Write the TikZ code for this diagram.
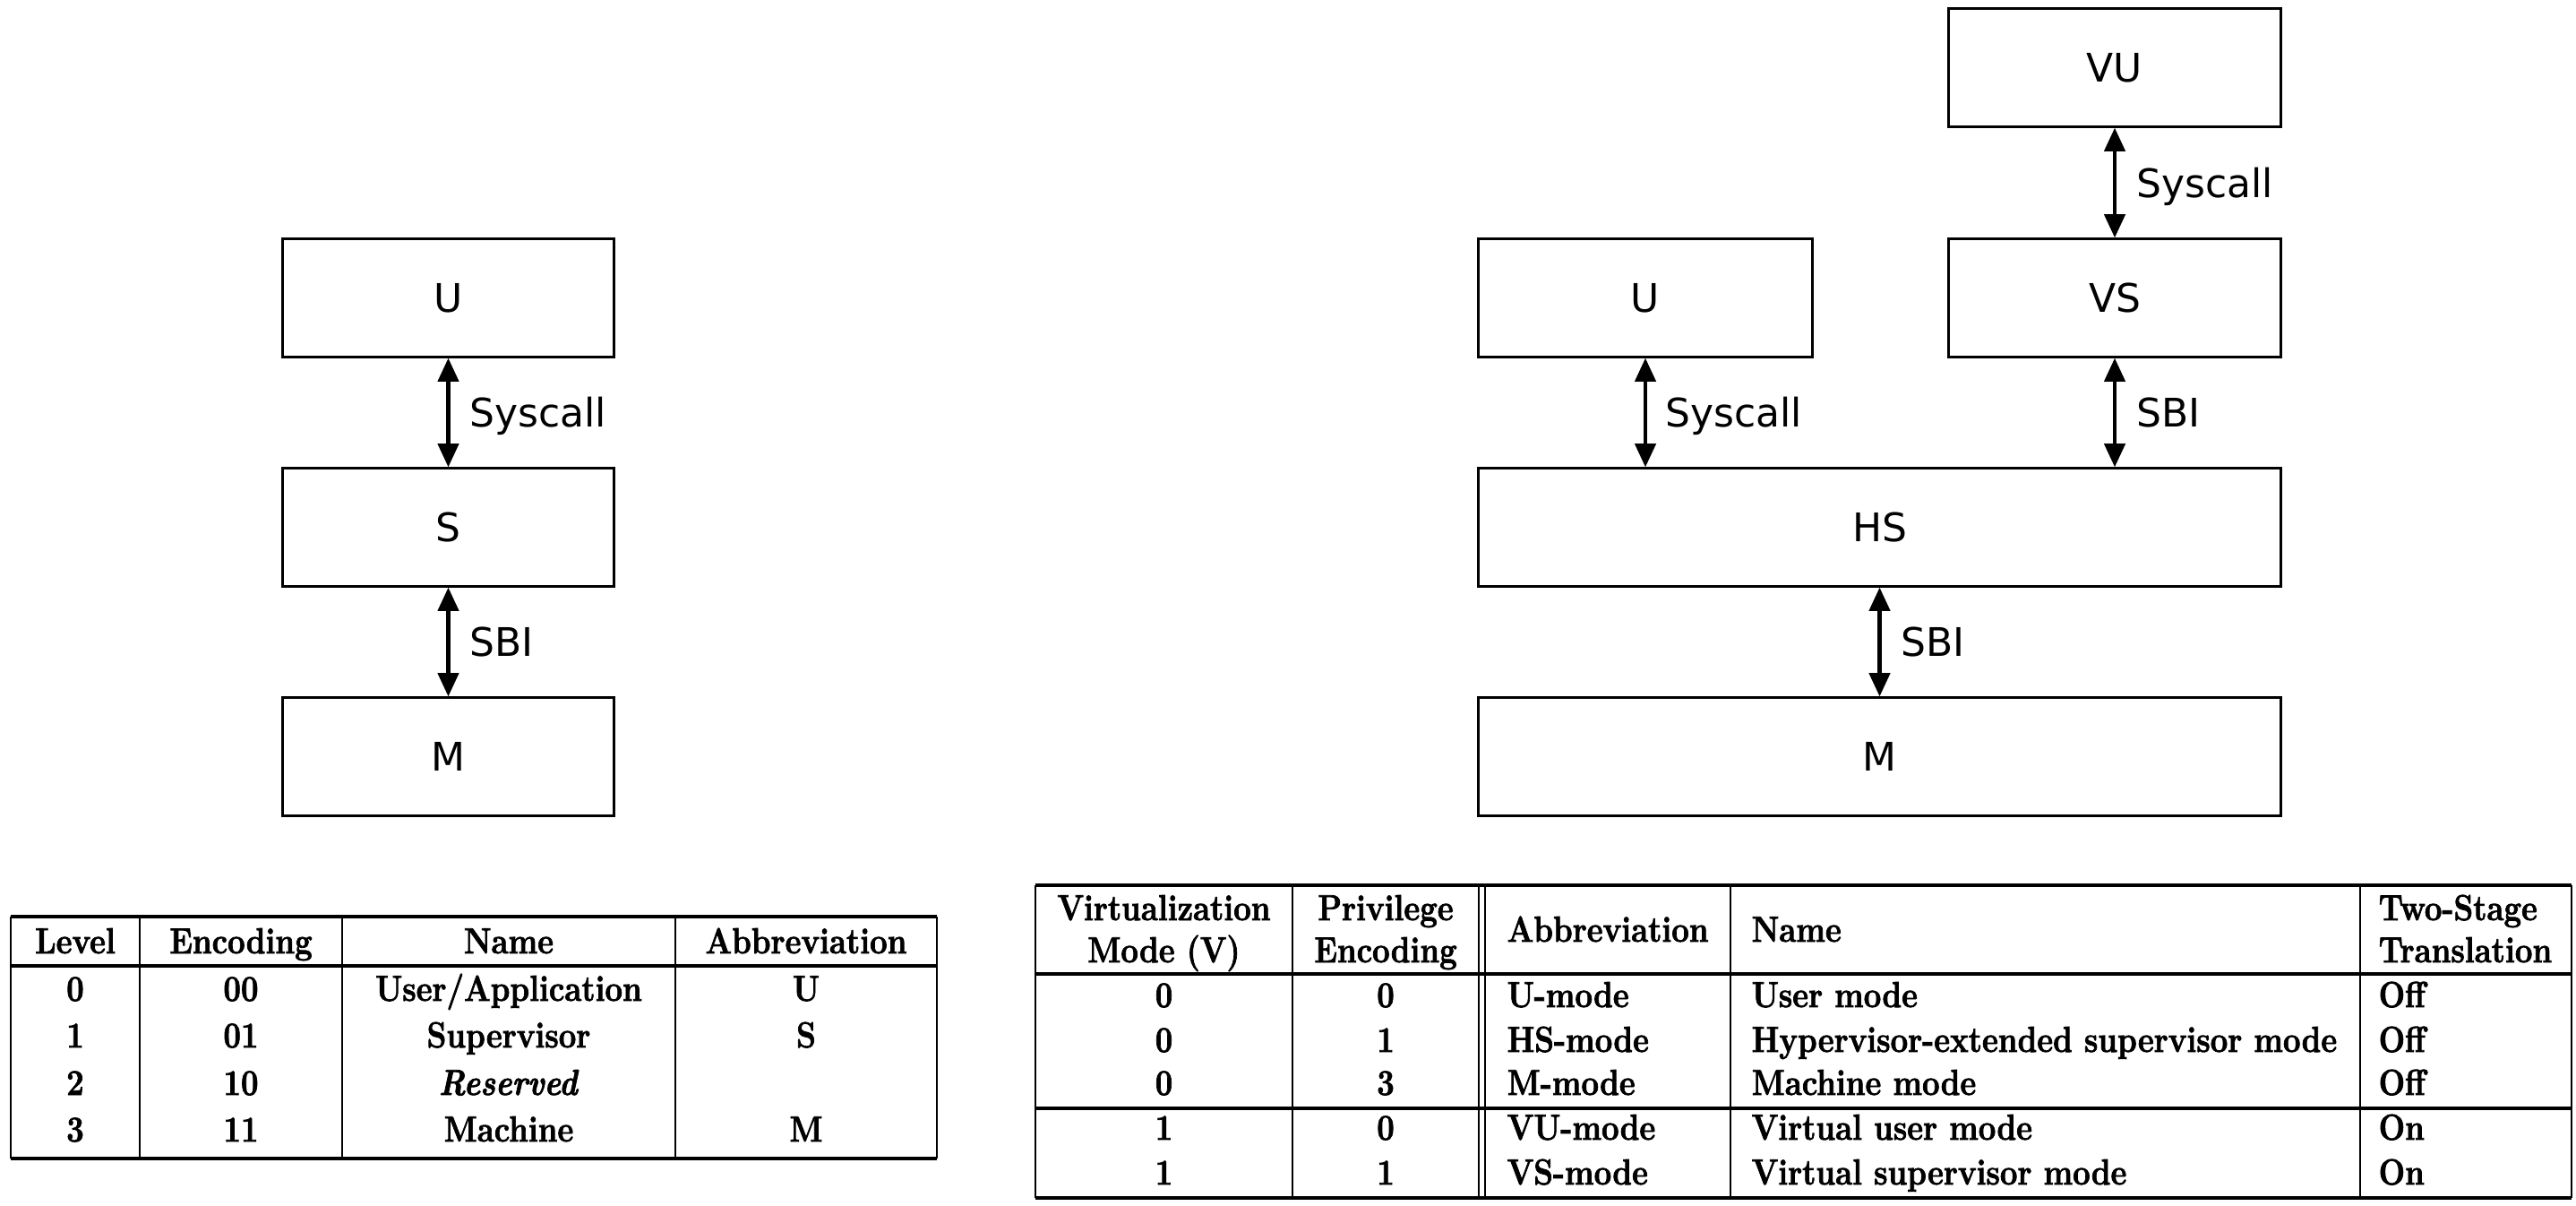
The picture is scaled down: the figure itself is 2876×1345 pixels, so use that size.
\documentclass[tikz,border=0pt]{standalone}
\usepackage{fontspec}
\usepackage{graphicx}
\usetikzlibrary{arrows.meta,calc}
\newfontfamily\dejavu{DejaVu Sans}
\newfontfamily\tabfont{lmroman12-bold.otf}[ItalicFont=lmroman10-bolditalic.otf,FakeBold=2]
\newcommand\cz[1]{\scalebox{0.86}[1]{#1}}
\begin{document}
\begin{tikzpicture}[x=0.01cm,y=-0.01cm,
  box/.style={draw, line width=0.85pt, inner sep=0pt, minimum height=1.31cm,
    font=\dejavu\fontsize{12.5}{15}\selectfont},
  arr/.style={{Triangle[length=7.5pt,width=6.5pt]}-{Triangle[length=7.5pt,width=6.5pt]}, line width=1.4pt},
  lab/.style={anchor=base west, inner sep=0pt, font=\dejavu\fontsize{12.5}{15}\selectfont},
  tc/.style={anchor=base, inner sep=0pt, font=\tabfont\fontsize{11.5}{13}\selectfont},
  tl/.style={anchor=base west, inner sep=0pt, font=\tabfont\fontsize{11.5}{13}\selectfont},
  hrl/.style={line width=1.1pt},
  vrl/.style={line width=0.8pt}]
\useasboundingbox (0,0) rectangle (2876,1345);

% ---------- left diagram ----------
\node[box, minimum width=3.69cm] (lU) at (500.5,332.5) {U};
\node[box, minimum width=3.69cm] (lS) at (500.5,588.5) {S};
\node[box, minimum width=3.69cm] (lM) at (500.5,844.5) {M};
\draw[arr] (lU.south) -- (lS.north);
\draw[arr] (lS.south) -- (lM.north);
\node[lab] (lsys) at ($(lU.south)!0.5!(lS.north)+(23,16)$) {Syscall};
\node[lab] (lsbi) at ($(lS.south)!0.5!(lM.north)+(23,16)$) {SBI};

% ---------- right diagram ----------
\node[box, minimum width=3.72cm] (rU) at (1837,332.5) {U};
\node[box, minimum width=3.70cm] (rVS) at (2361,332.5) {VS};
\node[box, minimum width=3.70cm] (rVU) at (2361,75.5) {VU};
\node[box, minimum width=8.95cm] (rHS) at (2098.5,588.5) {HS};
\node[box, minimum width=8.95cm] (rM) at (2098.5,844.5) {M};
\draw[arr] (rVU.south) -- (rVS.north);
\draw[arr] (rU.south) -- (rU.south |- rHS.north);
\draw[arr] (rVS.south) -- (rVS.south |- rHS.north);
\draw[arr] (rHS.south) -- (rM.north);
\node[lab] (rsys1) at ($(rVU.south)!0.5!(rVS.north)+(24,16)$) {Syscall};
\node[lab] (rsys2) at ($(rU.south)!0.5!(rU.south |- rHS.north)+(22,16)$) {Syscall};
\node[lab] (rsbi1) at ($(rVS.south)!0.5!(rVS.south |- rHS.north)+(24,16)$) {SBI};
\node[lab] (rsbi2) at ($(rHS.south)!0.5!(rM.north)+(23,16)$) {SBI};

% ---------- left table ----------
\draw[hrl] (12,1023) -- (1046,1023);
\draw[hrl] (12,1078) -- (1046,1078);
\draw[hrl] (12,1293) -- (1046,1293);
\foreach \x in {12,156,382,754,1046} \draw[vrl] (\x,1023) -- (\x,1293);
\node[tc] (lth1) at (84,1064) {\cz{Level}};
\node[tc] (lth2) at (269,1064) {\cz{Encoding}};
\node[tc] (lth3) at (568,1064) {\cz{Name}};
\node[tc] (lth4) at (900,1064) {\cz{Abbreviation}};
\foreach \y/\a/\b/\c/\d [count=\i] in {
  1117/0/00/User\slash Application/U,
  1169/1/01/Supervisor/S,
  1222/2/10/\textit{Reserved}/{},
  1274/3/11/Machine/M}{
  \node[tc] (ltr\i a) at (84,\y) {\cz{\a}};
  \node[tc] (ltr\i b) at (269,\y) {\cz{\b}};
  \node[tc] (ltr\i c) at (568,\y) {\cz{\c}};
  \node[tc] (ltr\i d) at (900,\y) {\cz{\d}};
}

% ---------- right table ----------
\foreach \y in {988,1087,1237,1337} \draw[hrl] (1156,\y) -- (2871,\y);
\foreach \x in {1156,1443,1651,1658,1932,2635,2871} \draw[vrl] (\x,988) -- (\x,1337);
\node[tc] (rth1a) at (1299.5,1027) {\cz{Virtualization}};
\node[tc] (rth1b) at (1299.5,1074) {\cz{Mode (V)}};
\node[tc] (rth2a) at (1547,1027) {\cz{Privilege}};
\node[tc] (rth2b) at (1547,1074) {\cz{Encoding}};
\node[tl] (rth3) at (1682,1051) {\cz{Abbreviation}};
\node[tl] (rth4) at (1955,1051) {\cz{Name}};
\node[tl] (rth5a) at (2655,1027) {\cz{Two-Stage}};
\node[tl] (rth5b) at (2655,1074) {\cz{Translation}};
\foreach \y/\a/\b/\c/\d/\e [count=\i] in {
  1124/0/0/U-mode/User mode/Off,
  1174/0/1/HS-mode/Hypervisor-extended supervisor mode/Off,
  1222/0/3/M-mode/Machine mode/Off,
  1272/1/0/VU-mode/Virtual user mode/On,
  1322/1/1/VS-mode/Virtual supervisor mode/On}{
  \node[tc] (rtr\i a) at (1299.5,\y) {\cz{\a}};
  \node[tc] (rtr\i b) at (1547,\y) {\cz{\b}};
  \node[tl] (rtr\i c) at (1682,\y) {\cz{\c}};
  \node[tl] (rtr\i d) at (1955,\y) {\cz{\d}};
  \node[tl] (rtr\i e) at (2655,\y) {\cz{\e}};
}
\end{tikzpicture}
\end{document}
